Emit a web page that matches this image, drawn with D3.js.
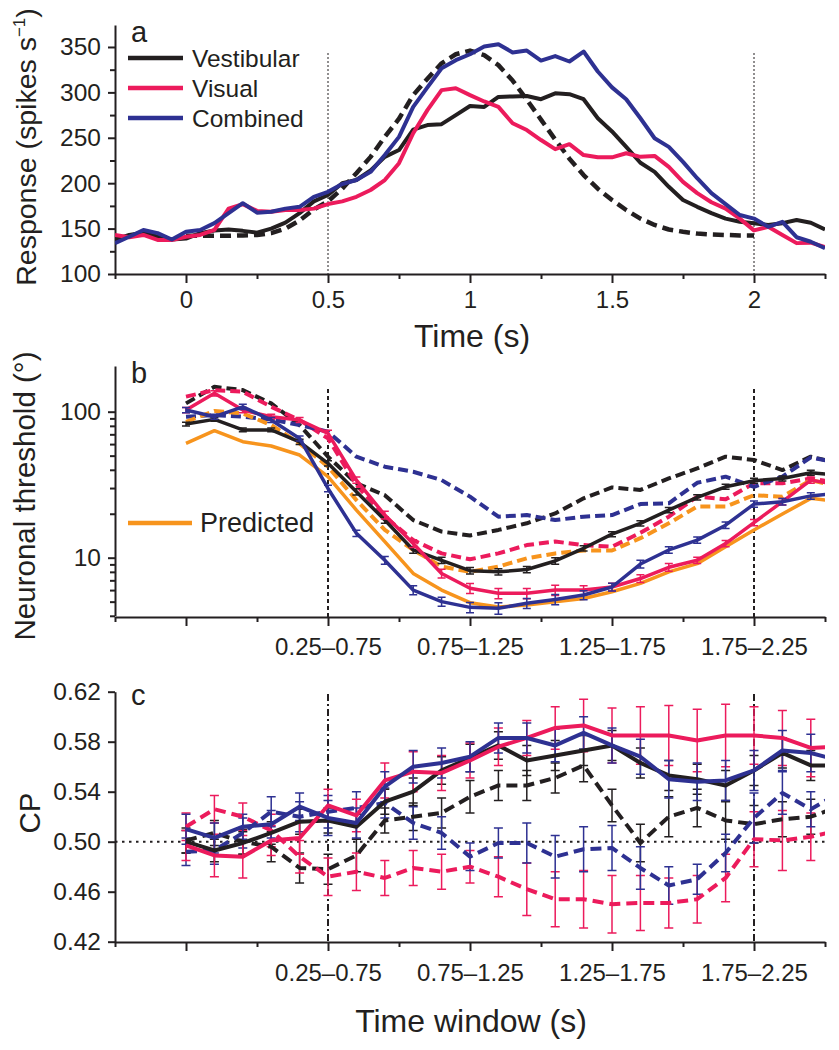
<!DOCTYPE html>
<html>
<head>
<meta charset="utf-8">
<script src="https://cdn.jsdelivr.net/npm/d3@7"></script>
<style>
  body { margin: 0; background: #fff; }
  svg text { font-family: "Liberation Sans", Arial, Helvetica, sans-serif; fill: #231f20; }
</style>
</head>
<body>
<svg id="chart" width="839" height="1050"></svg>
<script>
// ---- panel a: PSTH, time in s, response in spikes/s ----
const timeA = [-0.25,-0.2,-0.15,-0.1,-0.05,0,0.05,0.1,0.15,0.2,0.25,0.3,0.35,0.4,0.45,0.5,0.55,0.6,0.65,0.7,0.75,0.8,
  0.85,0.9,0.95,1,1.05,1.1,1.15,1.2,1.25,1.3,1.35,1.4,1.45,1.5,1.55,1.6,1.65,1.7,1.75,1.8,1.85,1.9,1.95,2,2.05,2.1,2.15,2.2,2.25];
const vestA = [138,143,145.5,141,138,139,145,148,149,147.5,145.5,150,156.5,167,180,187,200,203.5,214,229,236.5,259,
  264,265,275,285,284,295,295.5,296,292.5,299,298,292.5,271.5,257,240,222.5,212.5,196,181.5,174,167,161,157.5,156,154,156,159.5,156.5,149];
const visA = [143,140.5,143,137.5,137.5,141,143,148.5,172,177,169.5,168.5,170.5,170.5,172,177,180,185,192.5,203.5,222,255,
  280.5,302.5,304.5,297,290,284,266,258.5,247.5,237.5,243,231,228.5,228.5,233,229,230,218,201.5,189,179,172,161,148,152,143,134,134.5,129.5];
const combA = [134,141,148.5,145,138,146.5,148.5,156,167,178,167.5,168.5,172,174,185,190.5,199,203.5,212.5,231,251,284,
  305.5,326.5,335.5,342,350.5,353,344,346,335,340,334,345,323,305.5,292.5,271.5,249.5,240,223.5,205.5,189,177,165,161,152,157.5,140.5,135.5,128.5];
const stimA = [null,null,null,null,null,142,142,142,142,142.5,143,145,150,159,171,180,194,211,229,251,271,297,
  315,332,342,346,341,330,313,292,270,248,227,209,194,181.5,170.5,161,154,149,146.5,144.5,143.5,143,142.5,142.5,null,null,null,null,null];
const legendA = ["Vestibular", "Visual", "Combined"];

// ---- panels b and c: sliding 500 ms windows (centre time, s) ----
const timeWin = [0,0.1,0.2,0.3,0.4,0.5,0.6,0.7,0.8,0.9,1,1.1,1.2,1.3,1.4,1.5,1.6,1.7,1.8,1.9,2,2.1,2.2,2.3];
const winTicks = [0.5, 1, 1.5, 2];
const winLabels = ["0.25\u20130.75", "0.75\u20131.25", "1.25\u20131.75", "1.75\u20132.25"];

// neuronal thresholds (deg), solid = one group, dashed = other
const vestB  = [82.3,88.6,75,75,62.2,44.3,28.3,18.1,11.3,9.6,8.15,8.0,8.3,9.5,11.6,14.5,17.2,21.2,25.9,30.6,33.7,34.9,38.2,36.8];
const visB   = [102.6,133.6,102.6,92.4,87.7,71,34,19.6,12.5,7.8,6.17,5.7,5.7,6.0,6.0,6.3,7.2,8.6,9.6,12.5,17.4,24.2,34,31.5];
const combB  = [102.6,92.4,108,87.7,65.6,29.8,14.7,9.6,6.0,5.0,4.57,4.5,4.87,5.18,5.55,6.3,9.05,11.3,13.2,16.7,23.3,24.2,26.5,27.6];
const predB  = [60.7,74.1,62.3,58.2,50.5,35.9,21.2,12.9,7.8,6.0,4.92,4.6,4.74,5.0,5.25,5.85,6.67,8.0,9.1,11.9,15.5,19.9,25.5,24.2];
const vestBd = [114,148,140.6,114,81,49.2,32.3,26.8,18.1,15.1,14.2,15.5,17.2,20.1,25.5,30.3,29.1,34.9,40.9,49.2,46.7,39.8,49.2,44.3];
const visBd  = [126.8,140.6,137,108,87.7,65.6,31.5,19.1,13.2,10.7,9.75,10.7,12.2,12.9,12.2,11.9,14.8,19.1,26.2,25.1,32.3,32.3,34.9,32.3];
const combBd = [92.4,94.8,92.4,88.6,81,73,49.2,42,38.8,34,26.2,19.1,19.6,18.1,19.1,19.6,23.3,23.6,32.6,35.9,30.6,35.9,48.7,44.3];
const predBd = [85.3,101,97.4,81,60.7,42,24.8,15.5,11.3,8.7,8.0,8.7,9.9,10.7,11.2,11.2,13.6,17.2,22.4,22.4,26.8,26.2,34,30.6];
// relative s.e.m. of the solid threshold curves
const vestBErr = [0.03,0.03,0.03,0.03,0.04,0.04,0.05,0.05,0.05,0.05,0.05,0.05,0.05,0.05,0.04,0.04,0.04,0.04,0.04,0.04,0.04,0.04,0.04,0.04];
const visBErr  = [0.04,0.04,0.04,0.04,0.04,0.05,0.05,0.06,0.06,0.07,0.08,0.08,0.08,0.08,0.07,0.06,0.06,0.06,0.05,0.05,0.05,0.05,0.05,0.05];
const combBErr = [0.04,0.04,0.04,0.04,0.04,0.05,0.05,0.06,0.07,0.07,0.08,0.09,0.08,0.08,0.07,0.06,0.06,0.05,0.05,0.05,0.05,0.05,0.05,0.05];

// choice probabilities
const vestC  = [0.500,0.493,0.499,0.507,0.516,0.517,0.512,0.532,0.540,0.557,0.567,0.577,0.565,0.569,0.573,0.577,0.563,0.553,0.550,0.545,0.557,0.571,0.561,0.561];
const visC   = [0.497,0.489,0.488,0.501,0.503,0.529,0.521,0.549,0.556,0.555,0.565,0.576,0.583,0.591,0.593,0.585,0.585,0.585,0.581,0.585,0.585,0.583,0.575,0.576];
const combC  = [0.510,0.503,0.512,0.514,0.528,0.519,0.515,0.544,0.560,0.563,0.568,0.583,0.583,0.577,0.587,0.577,0.568,0.550,0.548,0.549,0.557,0.573,0.571,0.565];
const vestCd = [0.501,0.507,0.500,0.496,0.479,0.478,0.489,0.517,0.520,0.523,0.536,0.545,0.545,0.551,0.561,0.529,0.499,0.520,0.527,0.517,0.514,0.518,0.520,0.528];
const visCd  = [0.512,0.526,0.520,0.509,0.488,0.472,0.476,0.471,0.479,0.476,0.480,0.472,0.462,0.454,0.454,0.450,0.451,0.451,0.454,0.471,0.502,0.501,0.504,0.509];
const combCd = [0.492,0.493,0.507,0.524,0.520,0.524,0.527,0.531,0.515,0.507,0.488,0.499,0.499,0.488,0.494,0.495,0.479,0.465,0.470,0.491,0.519,0.539,0.526,0.539];
const vestCErr  = [0.009,0.009,0.009,0.009,0.010,0.010,0.010,0.010,0.011,0.011,0.011,0.011,0.012,0.012,0.012,0.012,0.012,0.012,0.012,0.012,0.012,0.012,0.012,0.012];
const visCErr   = [0.012,0.017,0.017,0.012,0.013,0.013,0.013,0.014,0.016,0.014,0.014,0.015,0.014,0.017,0.021,0.022,0.023,0.024,0.025,0.025,0.023,0.022,0.023,0.023];
const combCErr  = [0.012,0.012,0.010,0.011,0.011,0.014,0.012,0.012,0.013,0.012,0.012,0.012,0.012,0.013,0.013,0.014,0.014,0.015,0.015,0.016,0.016,0.016,0.015,0.015];
const vestCdErr = [0.010,0.010,0.010,0.012,0.012,0.012,0.013,0.010,0.011,0.012,0.013,0.012,0.012,0.012,0.013,0.013,0.015,0.016,0.015,0.015,0.015,0.014,0.014,0.014];
const visCdErr  = [0.011,0.011,0.011,0.013,0.013,0.015,0.015,0.014,0.014,0.014,0.013,0.016,0.021,0.022,0.023,0.023,0.022,0.020,0.019,0.019,0.022,0.024,0.019,0.019];
const combCdErr = [0.011,0.011,0.012,0.012,0.012,0.013,0.013,0.012,0.013,0.013,0.011,0.012,0.016,0.017,0.018,0.018,0.017,0.015,0.012,0.015,0.020,0.017,0.014,0.014];

const INK = "#231f20", RED = "#ec1b5c", BLUE = "#2e3192", ORANGE = "#f7941d";

const svg = d3.select("#chart");
const x = d3.scaleLinear().domain([-0.25, 2.25]).range([115, 825]);
const majorX = [0, 0.5, 1, 1.5, 2];
const minorX = [-0.25, 0.25, 0.75, 1.25, 1.75, 2.25];

// clip every panel to the axis range
const defs = svg.append("defs");
function clipFor(id, y0, y1) {
    defs.append("clipPath").attr("id", id).append("rect")
        .attr("x", 115).attr("y", y0).attr("width", 710).attr("height", y1 - y0);
    return "url(#" + id + ")";
}

function styleAxis(g, fontSize) {
    g.selectAll("path, line").attr("stroke", INK).attr("stroke-width", 2);
    g.selectAll("text").attr("font-size", fontSize);
}

// bottom axis with long major ticks and short minor ticks
function drawXAxis(yPos, tickFmt, pad) {
    const gMin = svg.append("g").attr("transform", `translate(0,${yPos})`)
        .call(d3.axisBottom(x).tickValues(minorX).tickSize(5).tickSizeOuter(0).tickFormat(""));
    styleAxis(gMin, 24);
    const gMaj = svg.append("g").attr("transform", `translate(0,${yPos})`)
        .call(d3.axisBottom(x).tickValues(majorX).tickSize(9).tickSizeOuter(0).tickPadding(pad).tickFormat(tickFmt));
    styleAxis(gMaj, 24);
    gMaj.select(".domain").remove();
}

function yTitle(xPos, yPos, text, size) {
    return svg.append("text").attr("transform", `translate(${xPos},${yPos}) rotate(-90)`)
        .attr("text-anchor", "middle").attr("font-size", size).text(text);
}

function vline(t, y0, y1, width, dash) {
    svg.append("line").attr("x1", x(t)).attr("x2", x(t)).attr("y1", y0).attr("y2", y1)
        .attr("stroke", INK).attr("stroke-width", width).attr("stroke-dasharray", dash);
}

// ================= panel a =================
const yA = d3.scaleLinear().domain([100, 374.2]).range([274, 25]);
const clipA = clipFor("clipA", 20, 274);

drawXAxis(274, d3.format(""), 8);
const gyAmin = svg.append("g").attr("transform", "translate(115,0)")
    .call(d3.axisLeft(yA).tickValues([125, 175, 225, 275, 325]).tickSize(5).tickSizeOuter(0).tickFormat(""));
styleAxis(gyAmin, 24);
const gyA = svg.append("g").attr("transform", "translate(115,0)")
    .call(d3.axisLeft(yA).tickValues([100, 150, 200, 250, 300, 350]).tickSize(7).tickSizeOuter(0).tickPadding(7));
styleAxis(gyA, 24.5);
gyA.select(".domain").remove();

vline(0.5, 53, 274, 1, "2,2");
vline(2, 53, 274, 1, "2,2");

const lineA = d3.line().defined(d => d[1] != null).x(d => x(d[0])).y(d => yA(d[1]));
const seriesA = [
    { v: stimA, c: INK, dash: "11,6", w: 4.5 },
    { v: vestA, c: INK, dash: null, w: 4 },
    { v: visA, c: RED, dash: null, w: 4 },
    { v: combA, c: BLUE, dash: null, w: 4 }
];
const gA = svg.append("g").attr("clip-path", clipA);
seriesA.forEach(s => {
    gA.append("path").datum(timeA.map((t, i) => [t, s.v[i]]))
        .attr("d", lineA).attr("fill", "none").attr("stroke", s.c)
        .attr("stroke-width", s.w).attr("stroke-linejoin", "round")
        .attr("stroke-dasharray", s.dash);
});

// legend
[INK, RED, BLUE].forEach((c, i) => {
    const ly = 58 + i * 30;
    svg.append("line").attr("x1", 128).attr("x2", 183).attr("y1", ly).attr("y2", ly)
        .attr("stroke", c).attr("stroke-width", 4.5);
    svg.append("text").attr("x", 192).attr("y", ly + 9).attr("font-size", 24.5).text(legendA[i]);
});
svg.append("text").attr("x", 131).attr("y", 42).attr("font-size", 29).text("a");

const tA = yTitle(36, 147, "", 28.5);
tA.append("tspan").text("Response (spikes s");
tA.append("tspan").attr("font-size", 17).attr("dy", -11).text("\u22121");
tA.append("tspan").attr("dy", 11).text(")");
svg.append("text").attr("x", 472).attr("y", 347).attr("text-anchor", "middle")
    .attr("font-size", 32).text("Time (s)");

// ================= panel b =================
const yB = d3.scaleLog().domain([4, 205.6]).range([615.8, 366]);
const clipB = clipFor("clipB", 360, 617);
const winFmt = d => winLabels[winTicks.indexOf(d)] || "";

drawXAxis(617, winFmt, 12);
const minorB = [4, 5, 6, 7, 8, 9, 20, 30, 40, 50, 60, 70, 80, 90];
const gyBmin = svg.append("g").attr("transform", "translate(115,0)")
    .call(d3.axisLeft(yB).tickValues(minorB).tickSize(5).tickSizeOuter(0).tickFormat(""));
styleAxis(gyBmin, 24);
const gyB = svg.append("g").attr("transform", "translate(115,0)")
    .call(d3.axisLeft(yB).tickValues([10, 100]).tickSize(7).tickSizeOuter(0).tickPadding(7).tickFormat(d3.format("")));
styleAxis(gyB, 24.5);
gyB.select(".domain").remove();

vline(0.5, 389, 617, 2, "4,3");
vline(2, 389, 617, 2, "4,3");

const lineB = d3.line().x(d => x(d[0])).y(d => yB(d[1]));
const seriesB = [
    { v: vestBd, c: INK, dash: "10,5" },
    { v: visBd, c: RED, dash: "10,5" },
    { v: combBd, c: BLUE, dash: "10,5" },
    { v: predBd, c: ORANGE, dash: "10,5" },
    { v: predB, c: ORANGE, dash: null },
    { v: vestB, c: INK, dash: null, err: vestBErr },
    { v: visB, c: RED, dash: null, err: visBErr },
    { v: combB, c: BLUE, dash: null, err: combBErr }
];
const gB = svg.append("g").attr("clip-path", clipB);
seriesB.forEach(s => {
    gB.append("path").datum(timeWin.map((t, i) => [t, s.v[i]]))
        .attr("d", lineB).attr("fill", "none").attr("stroke", s.c)
        .attr("stroke-width", s.dash ? 4 : 3.5).attr("stroke-linejoin", "round")
        .attr("stroke-dasharray", s.dash);
    if (s.err) {
        timeWin.forEach((t, i) => {
            const lo = yB(s.v[i] * (1 - s.err[i])), hi = yB(s.v[i] * (1 + s.err[i]));
            const cx = x(t);
            gB.append("path")
                .attr("d", `M${cx},${lo}V${hi}M${cx - 4},${lo}H${cx + 4}M${cx - 4},${hi}H${cx + 4}`)
                .attr("stroke", s.c).attr("stroke-width", 1.5).attr("fill", "none");
        });
    }
});

svg.append("line").attr("x1", 128).attr("x2", 192).attr("y1", 523).attr("y2", 523)
    .attr("stroke", ORANGE).attr("stroke-width", 4.5);
svg.append("text").attr("x", 200).attr("y", 532).attr("font-size", 27).text("Predicted");
svg.append("text").attr("x", 131).attr("y", 383).attr("font-size", 29).text("b");
yTitle(35, 496, "Neuronal threshold (\u00b0)", 29.5);

// ================= panel c =================
const yC = d3.scaleLinear().domain([0.42, 0.62]).range([941.7, 691.7]);
const clipC = clipFor("clipC", 680, 942);

drawXAxis(942, winFmt, 13);
const gyC = svg.append("g").attr("transform", "translate(115,0)")
    .call(d3.axisLeft(yC).tickValues([0.42, 0.46, 0.50, 0.54, 0.58, 0.62]).tickSize(7)
        .tickSizeOuter(0).tickPadding(7).tickFormat(d3.format(".2f")));
styleAxis(gyC, 24.5);

svg.append("line").attr("x1", 115).attr("x2", 825).attr("y1", yC(0.5)).attr("y2", yC(0.5))
    .attr("stroke", INK).attr("stroke-width", 2).attr("stroke-dasharray", "2.5,4.5");
vline(0.5, 694, 942, 2, "7,3,2,3");
vline(2, 694, 942, 2, "7,3,2,3");

const lineC = d3.line().x(d => x(d[0])).y(d => yC(d[1]));
const seriesC = [
    { v: vestCd, e: vestCdErr, c: INK, dash: "11,6" },
    { v: visCd, e: visCdErr, c: RED, dash: "11,6" },
    { v: combCd, e: combCdErr, c: BLUE, dash: "11,6" },
    { v: vestC, e: vestCErr, c: INK, dash: null },
    { v: visC, e: visCErr, c: RED, dash: null },
    { v: combC, e: combCErr, c: BLUE, dash: null }
];
const gC = svg.append("g").attr("clip-path", clipC);
seriesC.forEach(s => {
    timeWin.forEach((t, i) => {
        const lo = yC(s.v[i] - s.e[i]), hi = yC(s.v[i] + s.e[i]);
        const cx = x(t);
        gC.append("path")
            .attr("d", `M${cx},${lo}V${hi}M${cx - 4.5},${lo}H${cx + 4.5}M${cx - 4.5},${hi}H${cx + 4.5}`)
            .attr("stroke", s.c).attr("stroke-width", 1.5).attr("fill", "none");
    });
});
seriesC.forEach(s => {
    gC.append("path").datum(timeWin.map((t, i) => [t, s.v[i]]))
        .attr("d", lineC).attr("fill", "none").attr("stroke", s.c)
        .attr("stroke-width", 4).attr("stroke-linejoin", "round")
        .attr("stroke-dasharray", s.dash);
});

svg.append("text").attr("x", 131).attr("y", 705).attr("font-size", 29).text("c");
yTitle(40, 813, "CP", 29.5);
svg.append("text").attr("x", 471).attr("y", 1032).attr("text-anchor", "middle")
    .attr("font-size", 32).text("Time window (s)");
</script>
</body>
</html>
